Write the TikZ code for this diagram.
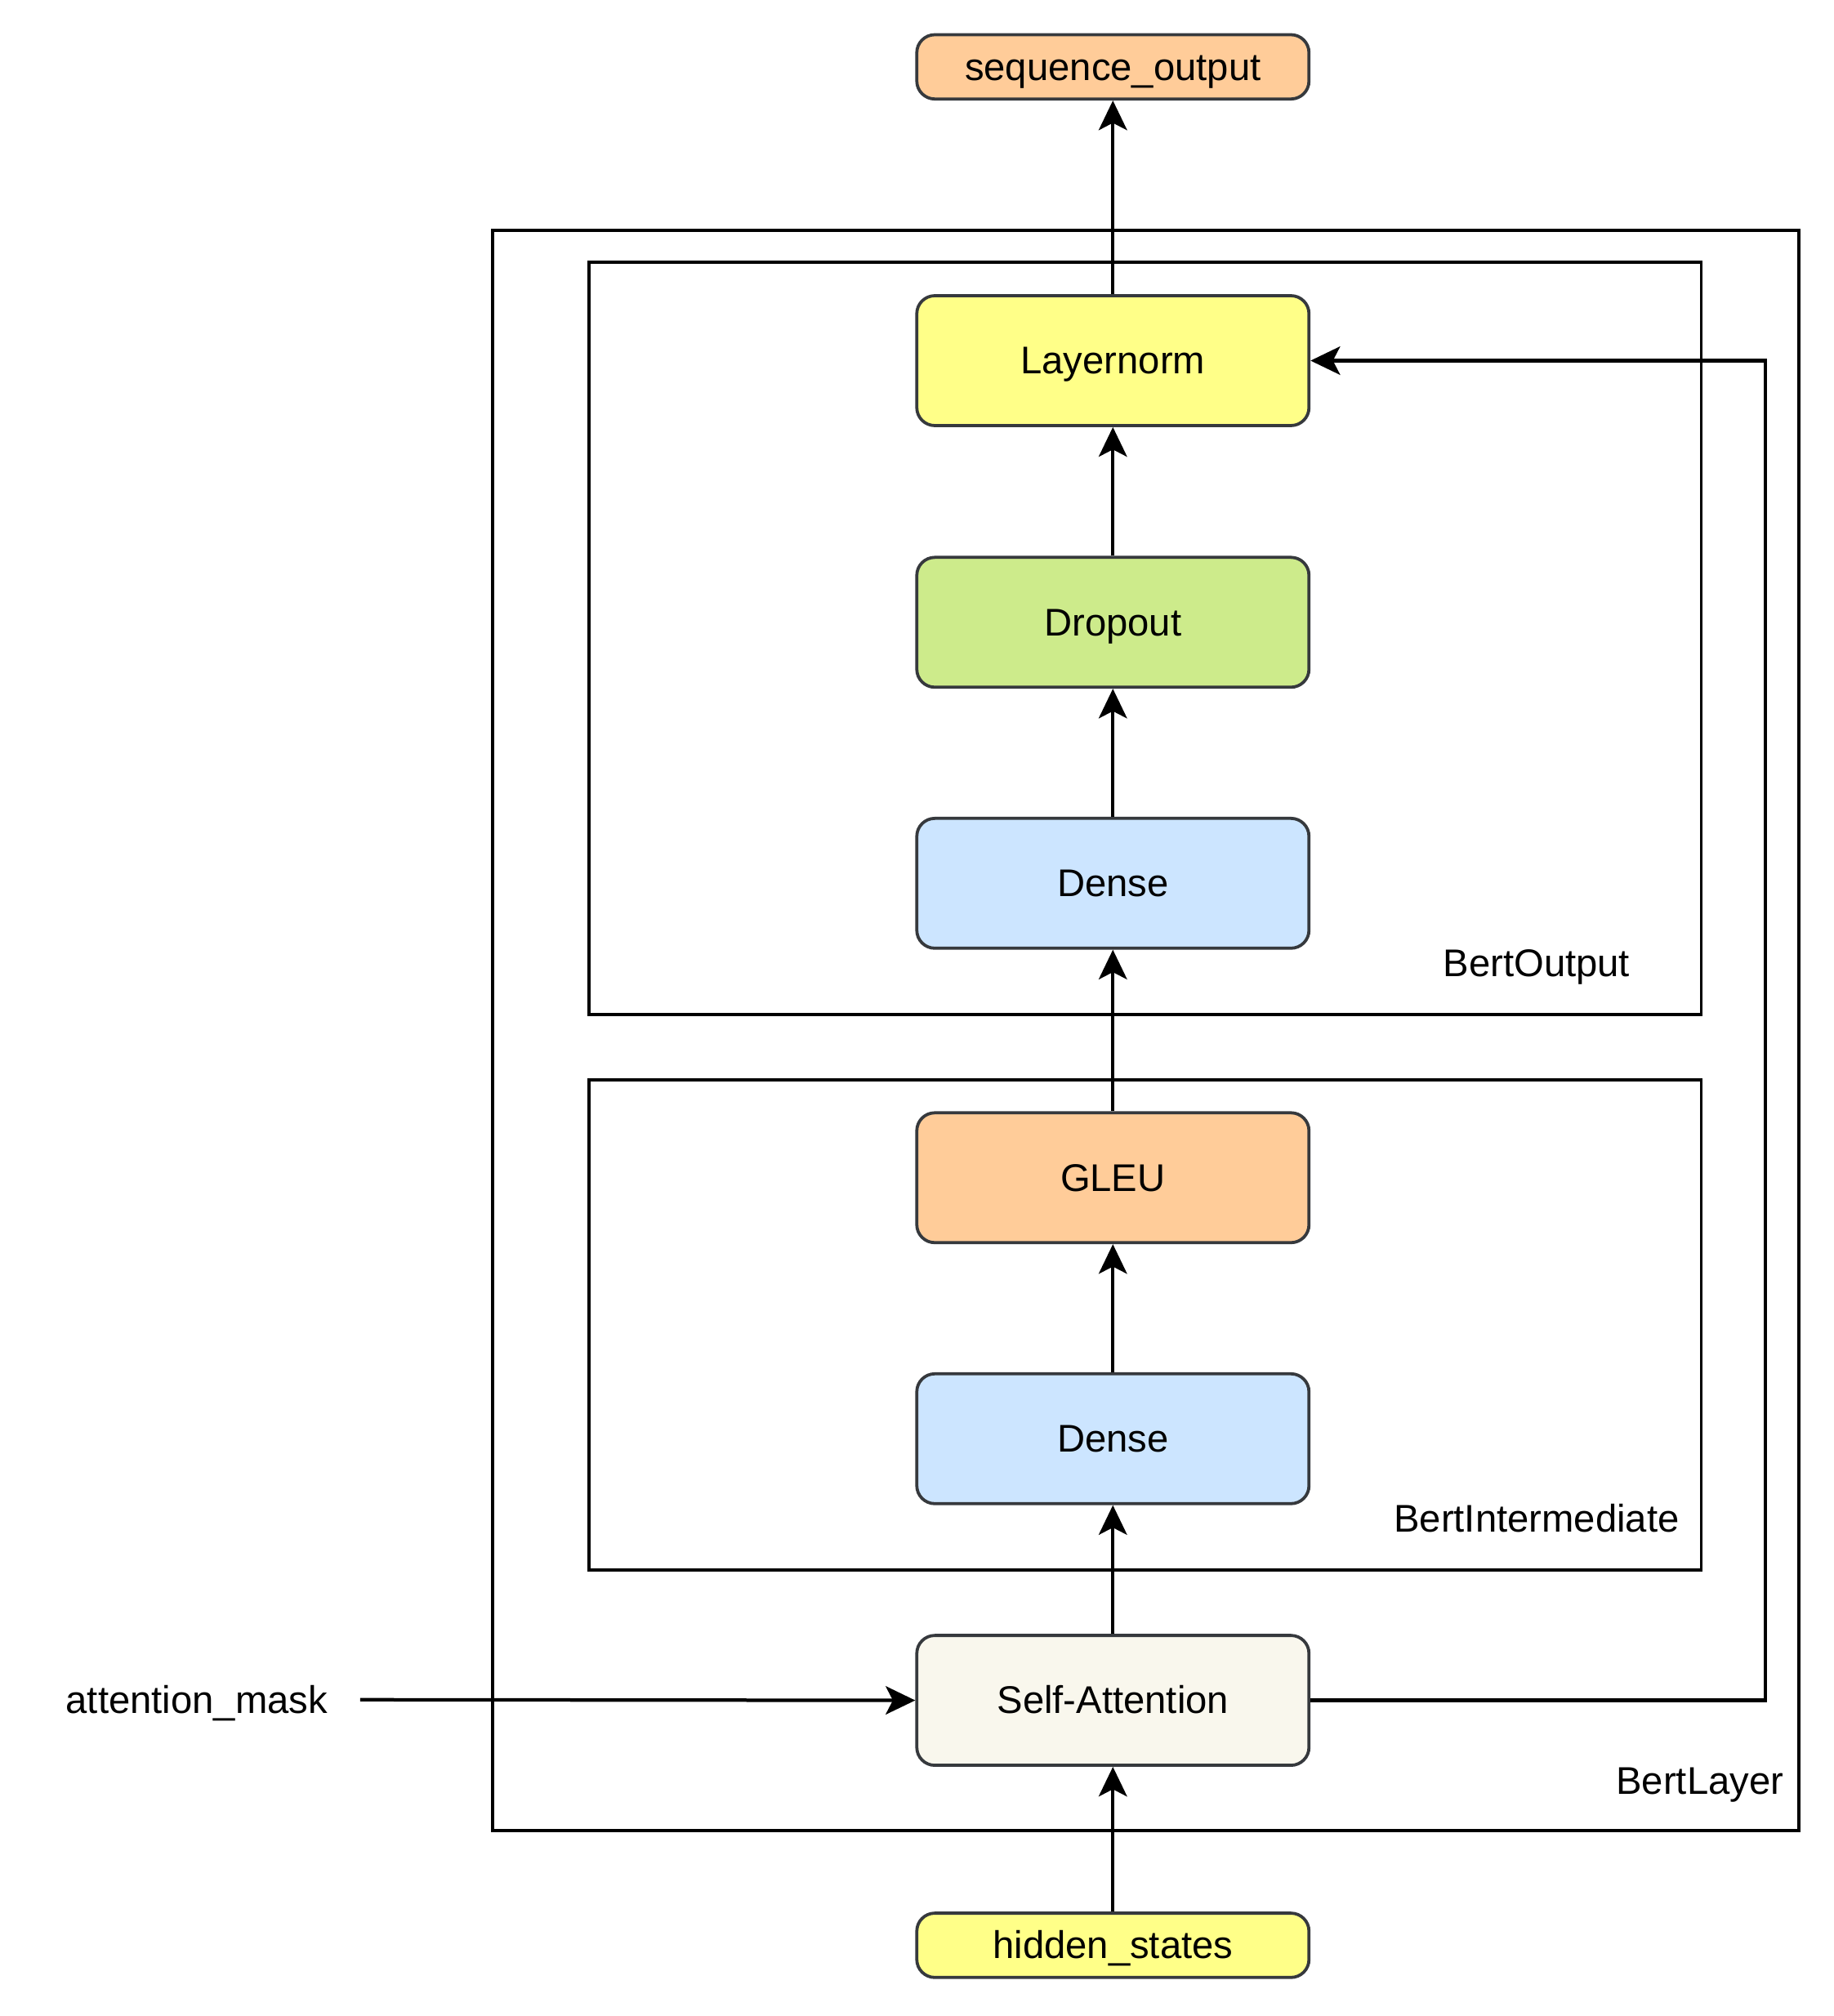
\documentclass[tikz,border=0pt]{standalone}
\usepackage{fontspec}
\setmainfont{Liberation Sans}
\usetikzlibrary{arrows.meta}
\definecolor{nodeborder}{HTML}{36393D}
\definecolor{cOrange}{HTML}{FFCC99}
\definecolor{cYellow}{HTML}{FFFF88}
\definecolor{cGreen}{HTML}{CDEB8B}
\definecolor{cBlue}{HTML}{CCE5FF}
\definecolor{cCream}{HTML}{F9F7ED}
\begin{document}
\begin{tikzpicture}[x=0.5pt,y=-0.5pt,
  font=\fontsize{15pt}{18pt}\selectfont,
  txt/.style={text height=13.6pt, text depth=3.2pt},
  block/.style={draw=nodeborder, line width=1.2pt, rounded corners=7pt,
    minimum width=152.5pt, minimum height=50.5pt, inner sep=0pt, txt},
  io/.style={block, minimum height=25pt},
  group/.style={draw=black, line width=1.2pt, inner sep=0pt},
  lbl/.style={inner sep=0pt, anchor=center, txt},
  arr/.style={-{Stealth[length=11.5pt,width=11pt,inset=2.8pt]}, line width=1.2pt, black},
  arrthick/.style={arr, line width=1.35pt}]
\useasboundingbox (0,0) rectangle (1426,1568);

% groups
\node[group, minimum width=508pt, minimum height=622.5pt] (bertlayer) at (891,801.5) {};
\node[group, minimum width=432.5pt, minimum height=292.5pt] (bertoutput) at (890.5,496.5) {};
\node[group, minimum width=432.5pt, minimum height=190.5pt] (bertinter) at (890.5,1030.5) {};
\node[lbl] (lout) at (1195,749) {BertOutput};
\node[lbl] (linter) at (1195,1181) {BertIntermediate};
\node[lbl] (llayer) at (1322,1385) {BertLayer};

% nodes
\node[io, fill=cOrange] (seqout) at (865.5,52) {sequence\_output};
\node[block, fill=cYellow] (layernorm) at (865.5,280.5) {Layernorm};
\node[block, fill=cGreen] (dropout) at (865.5,484) {Dropout};
\node[block, fill=cBlue] (dense2) at (865.5,687) {Dense};
\node[block, fill=cOrange] (gleu) at (865.5,916) {GLEU};
\node[block, fill=cBlue] (dense1) at (865.5,1119) {Dense};
\node[block, fill=cCream] (selfatt) at (865.5,1322.5) {Self-Attention};
\node[io, fill=cYellow] (hidden) at (865.5,1513) {hidden\_states};
\node[lbl] (mask) at (153,1322) {attention\_mask};

% connectors
\path (mask.east) ++(25,0) coordinate (maskstart);
\draw[arrthick] (hidden) -- (selfatt);
\draw[arr] (selfatt) -- (dense1);
\draw[arr] (dense1) -- (gleu);
\draw[arr] (gleu) -- (dense2);
\draw[arr] (dense2) -- (dropout);
\draw[arr] (dropout) -- (layernorm);
\draw[arrthick] (layernorm) -- (seqout);
\draw[arrthick] (maskstart) -- (selfatt.west);
\draw[arrthick] (selfatt.east) -| (1373,280.5) -- (layernorm.east);
\end{tikzpicture}
\end{document}
